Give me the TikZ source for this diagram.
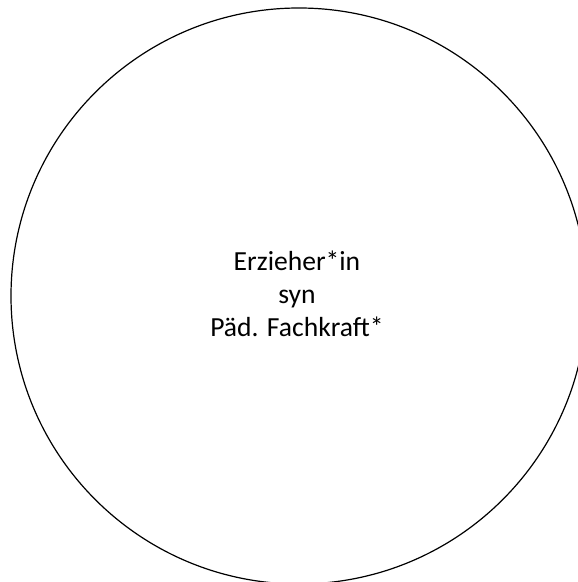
\documentclass[tikz,border=0pt]{standalone}
\usepackage{fontspec}
\setmainfont{Carlito}
\usetikzlibrary{positioning}

\begin{document}
\begin{tikzpicture}[x=1pt, y=1pt, line width=1.2pt,
    rolltext/.style={font=\fontsize{27.6}{33}\selectfont, inner sep=0pt, anchor=base}]

    % ==================== FRAME ====================
    \useasboundingbox (0,0) rectangle (578,582);
    \clip (0,0) rectangle (578,582);

    % ==================== CIRCLE ====================
    \node [circle, draw, minimum size=576pt, inner sep=0pt] (role) at (299, 286) {};

    % ==================== LABEL ====================
    \node [rolltext] (line1) at (297, 311) {Erzieher*in};
    \node [rolltext, below=32.8pt of line1.base, anchor=base] (line2) {syn};
    \node [rolltext, below=32.8pt of line2.base, anchor=base] (line3) {Päd. Fachkraft*};

\end{tikzpicture}
\end{document}
